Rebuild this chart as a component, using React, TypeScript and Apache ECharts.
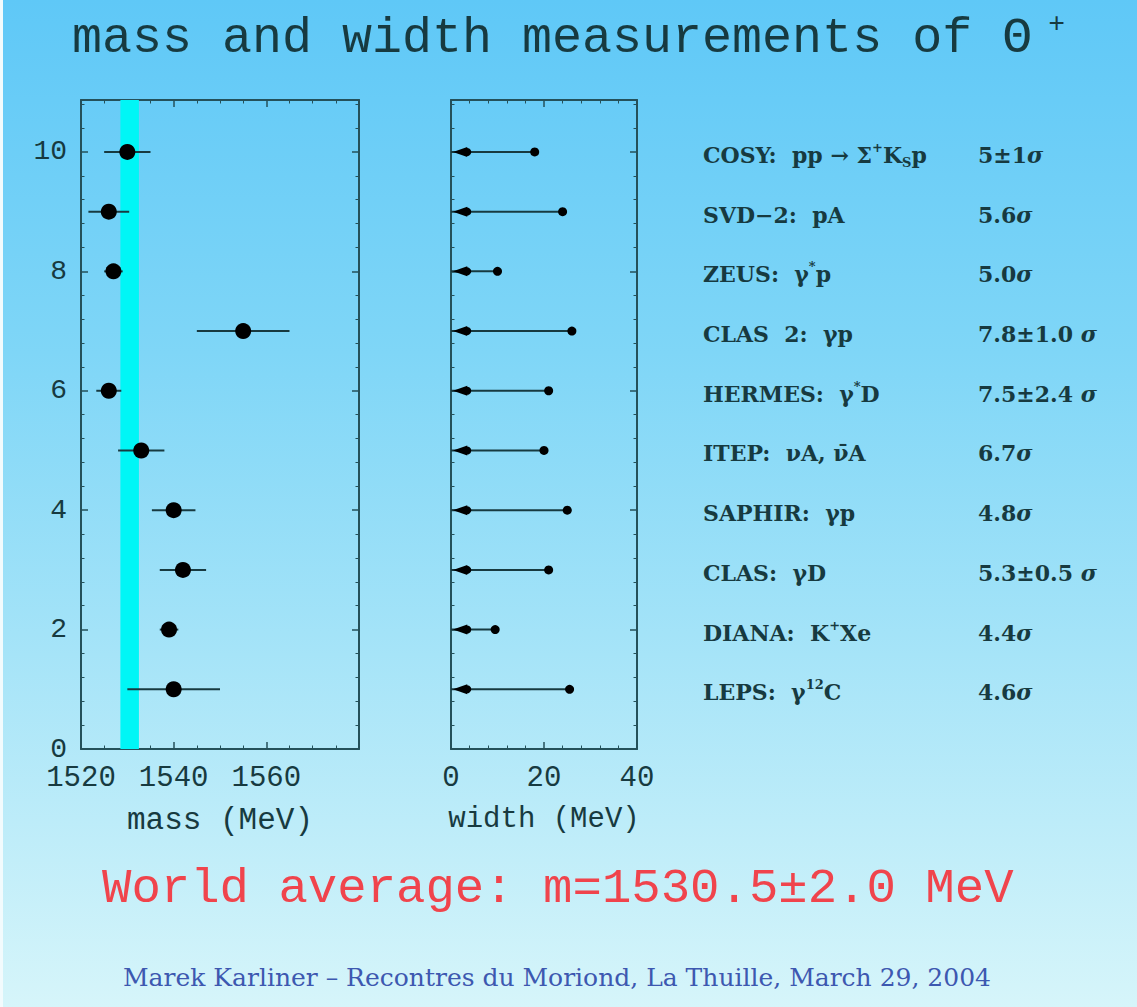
import React, { useEffect, useRef } from "react";
import * as echarts from "echarts";

// ---------- data (top row first) ----------
const ROWS = [10, 9, 8, 7, 6, 5, 4, 3, 2, 1];
const EXPERIMENTS = ["COSY", "SVD-2", "ZEUS", "CLAS 2", "HERMES", "ITEP", "SAPHIR", "CLAS", "DIANA", "LEPS"];
const REACTION_LABELS = [
  "{n|COSY:  pp → Σ}{sup|+}{n|K}{sub|S}{n|p}",
  "{n|SVD−2:  pA}",
  "{n|ZEUS:  γ}{sup|*}{n|p}",
  "{n|CLAS  2:  γp}",
  "{n|HERMES:  γ}{sup|*}{n|D}",
  "{n|ITEP:  νA, ν̄A}",
  "{n|SAPHIR:  γp}",
  "{n|CLAS:  γD}",
  "{n|DIANA:  K}{sup|+}{n|Xe}",
  "{n|LEPS:  γ}{sup|12}{n|C}",
];
const SIGNIFICANCE = ["5±1", "5.6", "5.0", "7.8±1.0 ", "7.5±2.4 ", "6.7", "4.8", "5.3±0.5 ", "4.4", "4.6"];
const MASS = [1530, 1526, 1527, 1555, 1526, 1533, 1540, 1542, 1539, 1540];
const MASS_ERR = [5, 4.4, 2, 10, 2.7, 5, 4.7, 5, 2, 10];
const WIDTH_UPPER = [18, 24, 10, 26, 21, 20, 25, 21, 9.5, 25.5];
const WIDTH_MARK = [3.5, 3.5, 3.5, 3.5, 3.5, 3.5, 3.5, 3.5, 3.5, 3.5];
const WORLD_AVG = 1530.5;
const WORLD_ERR = 2.0;

const MASS_MIN = 1520;
const MASS_MAX = 1580;
const MASS_STEP = 20;
const WIDTH_MIN = 0;
const WIDTH_MAX = 40;
const WIDTH_STEP = 20;
const Y_MIN = 0;
const Y_MAX = 10.87;
const Y_STEP = 2;

const TITLE = "mass and width measurements of Θ";
const TITLE_SUP = "+";
const AVERAGE_TEXT = `World average: m=${WORLD_AVG.toFixed(1)}±${WORLD_ERR.toFixed(1)} MeV`;
const FOOTER = "Marek Karliner – Recontres du Moriond, La Thuille, March 29, 2004";

// ---------- styles ----------
const FRAME = "#24515a";
const INK = "#173a40";
const MONO = "Liberation Mono";
const SERIF = "DejaVu Serif";

const isInt = (v: number) => Math.abs(v - Math.round(v)) < 1e-6;

const frameAxis = (extra: any) => ({
  type: "value",
  axisLine: { show: true, onZero: false, lineStyle: { color: FRAME, width: 2 } },
  axisTick: { show: true, inside: true, length: 7, lineStyle: { color: FRAME, width: 1.5 } },
  minorTick: { show: true, length: 3.5, lineStyle: { color: FRAME, width: 1 } },
  splitLine: { show: false },
  minorSplitLine: { show: false },
  ...extra,
});

const tickLabel = {
  fontFamily: MONO,
  fontSize: 29,
  lineHeight: 24,
  color: INK,
};

const richBase = { fontFamily: SERIF, fontWeight: "bold", color: INK };
const RICH = {
  n: { ...richBase, fontSize: 22, lineHeight: 28 },
  sup: { ...richBase, fontSize: 13, lineHeight: 14, verticalAlign: "top" },
  sub: { ...richBase, fontSize: 13, lineHeight: 14, verticalAlign: "bottom" },
  v: { ...richBase, fontSize: 22, lineHeight: 28 },
  sg: { ...richBase, fontSize: 22, lineHeight: 28, fontStyle: "italic" },
};

function App() {
  const ref = useRef<HTMLDivElement>(null);

  useEffect(() => {
    const chart = echarts.init(ref.current!, null, { renderer: "svg" });

    const labelFor = (list: string[]) => (v: number) => {
      if (!isInt(v)) return "";
      const i = ROWS.indexOf(Math.round(v));
      return i < 0 ? "" : list[i];
    };
    const plain = (v: number) => (isInt(v) ? String(Math.round(v)) : "");

    const option: any = {
      animation: false,
      backgroundColor: "transparent",
      grid: [
        { left: 81, top: 100, width: 278, height: 649 },
        { left: 451, top: 100, width: 186, height: 649 },
        { left: 703, top: 100, width: 260, height: 649 },
        { left: 978, top: 100, width: 150, height: 649 },
      ],
      xAxis: [
        frameAxis({
          gridIndex: 0,
          position: "bottom",
          min: MASS_MIN,
          max: MASS_MAX,
          interval: MASS_STEP,
          minorTick: { show: true, splitNumber: 4, length: 3.5, lineStyle: { color: FRAME, width: 1 } },
          axisLabel: { ...tickLabel, margin: 17, showMaxLabel: false, formatter: plain },
          name: "mass (MeV)",
          nameLocation: "middle",
          nameGap: 56,
          nameTextStyle: { fontFamily: MONO, fontSize: 31, color: INK },
        }),
        frameAxis({
          gridIndex: 0,
          position: "top",
          min: MASS_MIN,
          max: MASS_MAX,
          interval: MASS_STEP,
          minorTick: { show: true, splitNumber: 4, length: 3.5, lineStyle: { color: FRAME, width: 1 } },
          axisLabel: { show: false },
        }),
        frameAxis({
          gridIndex: 1,
          position: "bottom",
          min: WIDTH_MIN,
          max: WIDTH_MAX,
          interval: WIDTH_STEP,
          minorTick: { show: true, splitNumber: 5, length: 3.5, lineStyle: { color: FRAME, width: 1 } },
          axisLabel: { ...tickLabel, margin: 17, formatter: plain },
          name: "width (MeV)",
          nameLocation: "middle",
          nameGap: 56,
          nameTextStyle: { fontFamily: MONO, fontSize: 29, color: INK },
        }),
        frameAxis({
          gridIndex: 1,
          position: "top",
          min: WIDTH_MIN,
          max: WIDTH_MAX,
          interval: WIDTH_STEP,
          minorTick: { show: true, splitNumber: 5, length: 3.5, lineStyle: { color: FRAME, width: 1 } },
          axisLabel: { show: false },
        }),
        { type: "value", gridIndex: 2, show: false, min: 0, max: 1 },
        { type: "value", gridIndex: 3, show: false, min: 0, max: 1 },
      ],
      yAxis: [
        frameAxis({
          gridIndex: 0,
          position: "left",
          min: Y_MIN,
          max: Y_MAX,
          interval: Y_STEP,
          minorTick: { show: true, splitNumber: 5, length: 3.5, lineStyle: { color: FRAME, width: 1 } },
          axisLabel: {
            ...tickLabel,
            fontSize: 28,
            lineHeight: 22,
            margin: 14,
            showMaxLabel: false,
            formatter: plain,
          },
        }),
        frameAxis({
          gridIndex: 0,
          position: "right",
          min: Y_MIN,
          max: Y_MAX,
          interval: Y_STEP,
          minorTick: { show: true, splitNumber: 5, length: 3.5, lineStyle: { color: FRAME, width: 1 } },
          axisLabel: { show: false },
        }),
        frameAxis({
          gridIndex: 1,
          position: "left",
          min: Y_MIN,
          max: Y_MAX,
          interval: Y_STEP,
          minorTick: { show: true, splitNumber: 5, length: 3.5, lineStyle: { color: FRAME, width: 1 } },
          axisLabel: { show: false },
        }),
        frameAxis({
          gridIndex: 1,
          position: "right",
          min: Y_MIN,
          max: Y_MAX,
          interval: Y_STEP,
          minorTick: { show: true, splitNumber: 5, length: 3.5, lineStyle: { color: FRAME, width: 1 } },
          axisLabel: { show: false },
        }),
        {
          type: "value",
          gridIndex: 2,
          position: "left",
          min: Y_MIN,
          max: Y_MAX,
          interval: 1,
          axisLine: { show: false },
          axisTick: { show: false },
          splitLine: { show: false },
          axisLabel: {
            inside: true,
            margin: 0,
            padding: [6, 0, 0, 0],
            showMaxLabel: false,
            formatter: labelFor(REACTION_LABELS),
            rich: RICH,
          },
        },
        {
          type: "value",
          gridIndex: 3,
          position: "left",
          min: Y_MIN,
          max: Y_MAX,
          interval: 1,
          axisLine: { show: false },
          axisTick: { show: false },
          splitLine: { show: false },
          axisLabel: {
            inside: true,
            margin: 0,
            padding: [6, 0, 0, 0],
            showMaxLabel: false,
            formatter: labelFor(SIGNIFICANCE.map((s) => `{v|${s}}{sg|σ}`)),
            rich: RICH,
          },
        },
      ],
      series: [
        {
          name: "world average",
          type: "line",
          xAxisIndex: 0,
          yAxisIndex: 0,
          data: [],
          z: 1,
          silent: true,
          markArea: {
            silent: true,
            itemStyle: { color: "#00f6f6", opacity: 1 },
            data: [[{ xAxis: WORLD_AVG - WORLD_ERR }, { xAxis: WORLD_AVG + WORLD_ERR }]],
          },
        },
        {
          name: "mass error",
          type: "custom",
          xAxisIndex: 0,
          yAxisIndex: 0,
          z: 3,
          silent: true,
          encode: { x: 0, y: 1 },
          data: ROWS.map((r, i) => [MASS[i], r, MASS_ERR[i]]),
          renderItem: (_p: any, api: any) => {
            const m = api.value(0);
            const y = api.value(1);
            const e = api.value(2);
            const a = api.coord([m - e, y]);
            const b = api.coord([m + e, y]);
            return {
              type: "line",
              shape: { x1: a[0], y1: a[1], x2: b[0], y2: b[1] },
              style: { stroke: INK, lineWidth: 2 },
            };
          },
        },
        {
          name: "mass",
          type: "scatter",
          xAxisIndex: 0,
          yAxisIndex: 0,
          z: 4,
          symbol: "circle",
          symbolSize: 16,
          itemStyle: { color: "#000000", opacity: 1 },
          data: ROWS.map((r, i) => [MASS[i], r]),
        },
        {
          name: "width",
          type: "custom",
          xAxisIndex: 2,
          yAxisIndex: 2,
          z: 3,
          silent: true,
          encode: { x: 0, y: 1 },
          data: ROWS.map((r, i) => [WIDTH_UPPER[i], r, WIDTH_MARK[i]]),
          renderItem: (_p: any, api: any) => {
            const up = api.value(0);
            const y = api.value(1);
            const lo = api.value(2);
            const p0 = api.coord([WIDTH_MIN, y]);
            const pu = api.coord([up, y]);
            const pl = api.coord([lo, y]);
            return {
              type: "group",
              children: [
                {
                  type: "line",
                  shape: { x1: p0[0], y1: p0[1], x2: pu[0], y2: pu[1] },
                  style: { stroke: INK, lineWidth: 2 },
                },
                {
                  type: "polygon",
                  shape: {
                    points: [
                      [p0[0] + 2, p0[1]],
                      [pl[0], pl[1] - 5],
                      [pl[0], pl[1] + 5],
                    ],
                  },
                  style: { fill: "#000000" },
                },
                {
                  type: "circle",
                  shape: { cx: pl[0], cy: pl[1], r: 4 },
                  style: { fill: "#000000" },
                },
                {
                  type: "circle",
                  shape: { cx: pu[0], cy: pu[1], r: 4.5 },
                  style: { fill: "#000000" },
                },
              ],
            };
          },
        },
      ],
      graphic: [
        {
          type: "rect",
          shape: { x: 0, y: 0, width: 3, height: 1007 },
          style: { fill: "#f2fbfd" },
          silent: true,
        },
        {
          type: "text",
          x: 72,
          y: 38,
          style: {
            text: `{a|${TITLE}}{b|${TITLE_SUP}}`,
            align: "left",
            verticalAlign: "middle",
            rich: {
              a: { fontFamily: MONO, fontSize: 50, fill: INK, lineHeight: 56 },
              b: { fontFamily: MONO, fontSize: 28, fill: INK, verticalAlign: "top", lineHeight: 26, padding: [0, 0, 0, 16] },
            },
          },
          silent: true,
        },
        {
          type: "text",
          x: 102,
          y: 889,
          style: {
            text: AVERAGE_TEXT,
            fontFamily: MONO,
            fontSize: 49,
            fill: "#f0444c",
            align: "left",
            verticalAlign: "middle",
          },
          silent: true,
        },
        {
          type: "text",
          x: 557,
          y: 977,
          style: {
            text: FOOTER,
            fontFamily: SERIF,
            fontSize: 25,
            fill: "#3d58b0",
            align: "center",
            verticalAlign: "middle",
          },
          silent: true,
        },
      ],
    };

    chart.setOption(option);
    return () => chart.dispose();
  }, []);

  return (
    <div
      ref={ref}
      data-experiments={EXPERIMENTS.join(",")}
      style={{
        position: "absolute",
        left: 0,
        top: 0,
        width: 1137,
        height: 1007,
        background: "linear-gradient(to bottom, #5fc8f7 0%, #7fd6f7 35%, #a6e4f8 65%, #d6f5fa 100%)",
      }}
    />
  );
}

export default App;
